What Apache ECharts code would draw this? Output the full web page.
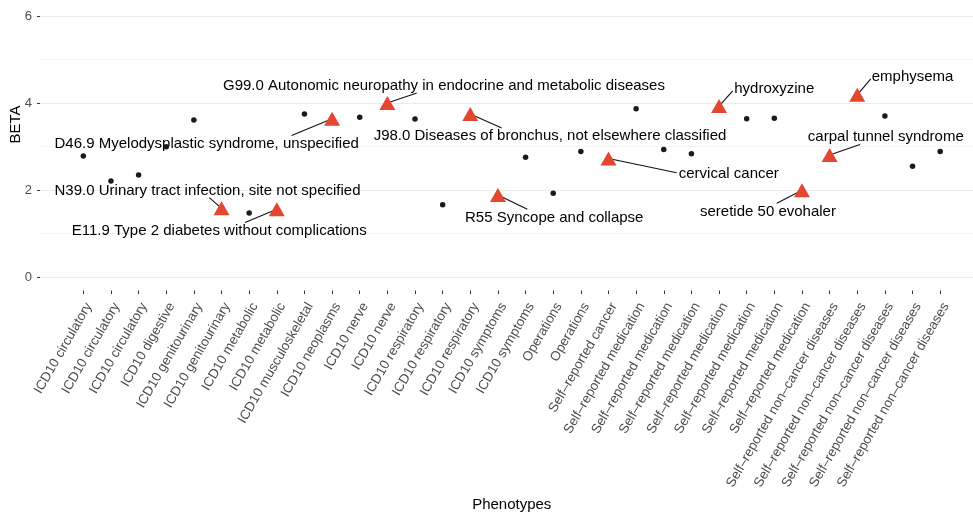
<!DOCTYPE html>
<html>
<head>
<meta charset="utf-8">
<script src="https://cdn.jsdelivr.net/npm/echarts@6/dist/echarts.min.js"></script>
<style>
  html, body { margin: 0; padding: 0; background: #fff; }
  #chart { width: 973px; height: 517px; }
</style>
</head>
<body>
<div id="chart"></div>
<script>
// Phenotype category for every association, in plotting order
const phenotypes = [
  'ICD10 circulatory', 'ICD10 circulatory', 'ICD10 circulatory',
  'ICD10 digestive',
  'ICD10 genitourinary', 'ICD10 genitourinary',
  'ICD10 metabolic', 'ICD10 metabolic',
  'ICD10 musculoskeletal',
  'ICD10 neoplasms',
  'ICD10 nerve', 'ICD10 nerve',
  'ICD10 respiratory', 'ICD10 respiratory', 'ICD10 respiratory',
  'ICD10 symptoms', 'ICD10 symptoms',
  'Operations', 'Operations',
  'Self\u2013reported cancer',
  'Self\u2013reported medication', 'Self\u2013reported medication', 'Self\u2013reported medication',
  'Self\u2013reported medication', 'Self\u2013reported medication', 'Self\u2013reported medication',
  'Self\u2013reported medication',
  'Self\u2013reported non\u2013cancer diseases', 'Self\u2013reported non\u2013cancer diseases',
  'Self\u2013reported non\u2013cancer diseases', 'Self\u2013reported non\u2013cancer diseases',
  'Self\u2013reported non\u2013cancer diseases'
];

// Effect size of each association
const beta = [
  2.77, 2.19, 2.33,
  2.98,
  3.60, 1.56,
  1.45, 1.54,
  3.74,
  3.63,
  3.66, 3.99,
  3.62, 1.64, 3.74,
  1.87, 2.74,
  1.91, 2.87,
  2.71,
  3.86, 2.92, 2.82, 3.92, 3.63, 3.64, 1.98,
  2.79, 4.18, 3.69, 2.53, 2.87
];

// Highlighted hits carry a descriptive label; empty string = not highlighted
const hitLabels = [
  '', '', '',
  '',
  '', 'N39.0 Urinary tract infection, site not specified',
  '', 'E11.9 Type 2 diabetes without complications',
  '',
  'D46.9 Myelodysplastic syndrome, unspecified',
  '', 'G99.0 Autonomic neuropathy in endocrine and metabolic diseases',
  '', '', 'J98.0 Diseases of bronchus, not elsewhere classified',
  'R55 Syncope and collapse', '',
  '', '',
  'cervical cancer',
  '', '', '', 'hydroxyzine', '', '', 'seretide 50 evohaler',
  'carpal tunnel syndrome', 'emphysema', '', '', ''
];

// Value-axis ticks
const betaTicks = [0, 2, 4, 6];

// Label placement relative to its point, in pixels:
// text = centre of the label, seg = end of the leader segment
const labelPlacement = {
  'D46.9 Myelodysplastic syndrome, unspecified':                    { text: [-125.4, 25.4], seg: [-40.4, 16.9] },
  'N39.0 Urinary tract infection, site not specified':              { text: [-14.0, -17.4], seg: [-12.2, -10.8] },
  'E11.9 Type 2 diabetes without complications':                    { text: [-57.6, 21.7],  seg: [-31.8, 13.3] },
  'G99.0 Autonomic neuropathy in endocrine and metabolic diseases': { text: [56.6, -16.9],  seg: [29.4, -10.1] },
  'J98.0 Diseases of bronchus, not elsewhere classified':           { text: [79.7, 22.4],   seg: [31.4, 14.0] },
  'R55 Syncope and collapse':                                       { text: [56.3, 22.6],   seg: [29.4, 14.3] },
  'cervical cancer':                                                { text: [120.3, 15.2],  seg: [68.2, 14.2] },
  'hydroxyzine':                                                    { text: [55.2, -17.7],  seg: [13.7, -15.3] },
  'seretide 50 evohaler':                                           { text: [-34.0, 21.8],  seg: [-25.2, 13.1] },
  'carpal tunnel syndrome':                                         { text: [56.2, -18.3],  seg: [30.4, -10.6] },
  'emphysema':                                                      { text: [55.3, -17.9],  seg: [13.5, -15.9] }
};

const FONT = '"Liberation Sans", Arial, Helvetica, sans-serif';
const HIT_RED = '#E4472F';

// Panel geometry: value range drawn over PANEL_H pixels, category axis sits AXIS_GAP below zero
const PANEL_TOP = 16, PANEL_H = 261, AXIS_GAP = 14.7;
const yMax = betaTicks[betaTicks.length - 1];
const yMin = betaTicks[0];
const catAxisMin = yMin - AXIS_GAP * (yMax - yMin) / PANEL_H;

const plainPoints = [];
const hitPoints = [];
const hitNames = [];
beta.forEach(function (v, i) {
  if (hitLabels[i]) {
    hitPoints.push([i, v]);
    hitNames.push(hitLabels[i]);
  } else {
    plainPoints.push([i, v]);
  }
});

function renderAnnotation(params, api) {
  const name = hitNames[params.dataIndex];
  const place = labelPlacement[name];
  const p = api.coord([api.value(0), api.value(1)]);
  const tx = p[0] + place.text[0], ty = p[1] + place.text[1];
  const ex = p[0] + place.seg[0], ey = p[1] + place.seg[1];
  return {
    type: 'group',
    children: [
      { type: 'line', shape: { x1: p[0], y1: p[1], x2: ex, y2: ey },
        style: { stroke: '#111', lineWidth: 1.1 } },
      { type: 'text',
        style: { text: name, x: tx, y: ty, align: 'center', verticalAlign: 'middle',
                 fontSize: 15, fontFamily: FONT, fill: '#000' } }
    ]
  };
}

const chart = echarts.init(document.getElementById('chart'), null, { renderer: 'canvas' });

chart.setOption({
  animation: false,
  backgroundColor: '#fff',
  grid: [
    { left: 40, right: 0, top: PANEL_TOP, height: PANEL_H },
    { left: 69.5, width: 884.5, top: PANEL_TOP, height: PANEL_H + AXIS_GAP }
  ],
  xAxis: [
    { gridIndex: 0, type: 'value', show: false, min: 0, max: 1 },
    {
      gridIndex: 1,
      type: 'category',
      data: phenotypes,
      boundaryGap: true,
      axisLine: { show: false, onZero: false },
      axisTick: { show: true, alignWithLabel: true, length: 3.5, lineStyle: { color: '#333', width: 1 } },
      axisLabel: {
        interval: 0, rotate: 60, align: 'right', verticalAlign: 'top', margin: 10,
        fontSize: 13.4, color: '#4d4d4d', fontFamily: FONT
      },
      splitLine: { show: false },
      name: 'Phenotypes',
      nameLocation: 'middle',
      nameGap: 204,
      nameTextStyle: { fontSize: 15, color: '#000', fontFamily: FONT }
    }
  ],
  yAxis: [
    {
      gridIndex: 0,
      type: 'value',
      min: yMin,
      max: yMax,
      interval: betaTicks[1] - betaTicks[0],
      axisLine: { show: false },
      axisTick: { show: true, length: 3, lineStyle: { color: '#333', width: 1 } },
      axisLabel: { fontSize: 13, color: '#4d4d4d', margin: 8, fontFamily: FONT },
      splitLine: { show: true, lineStyle: { color: '#ebebeb', width: 1.1 } },
      minorTick: { show: false, splitNumber: 2 },
      minorSplitLine: { show: true, lineStyle: { color: '#f4f4f4', width: 1 } }
    },
    {
      gridIndex: 1,
      type: 'value',
      show: false,
      min: catAxisMin,
      max: yMax
    }
  ],
  graphic: [
    {
      type: 'text',
      x: 16, y: 124.5,
      rotation: Math.PI / 2,
      style: { text: 'BETA', fontSize: 15, fontFamily: FONT, fill: '#000',
               align: 'center', verticalAlign: 'middle' }
    }
  ],
  series: [
    {
      type: 'custom',
      name: 'labels',
      xAxisIndex: 1, yAxisIndex: 1,
      z: 2,
      data: hitPoints,
      encode: { x: 0, y: 1 },
      renderItem: renderAnnotation,
      silent: true
    },
    {
      type: 'scatter',
      name: 'associations',
      xAxisIndex: 1, yAxisIndex: 1,
      z: 3,
      symbol: 'circle',
      symbolSize: 5.5,
      itemStyle: { color: '#1a1a1a', opacity: 1 },
      data: plainPoints
    },
    {
      type: 'scatter',
      name: 'highlighted',
      xAxisIndex: 1, yAxisIndex: 1,
      z: 4,
      symbol: 'triangle',
      symbolSize: [16, 14],
      itemStyle: { color: HIT_RED, opacity: 1 },
      data: hitPoints
    }
  ]
});
</script>
</body>
</html>
